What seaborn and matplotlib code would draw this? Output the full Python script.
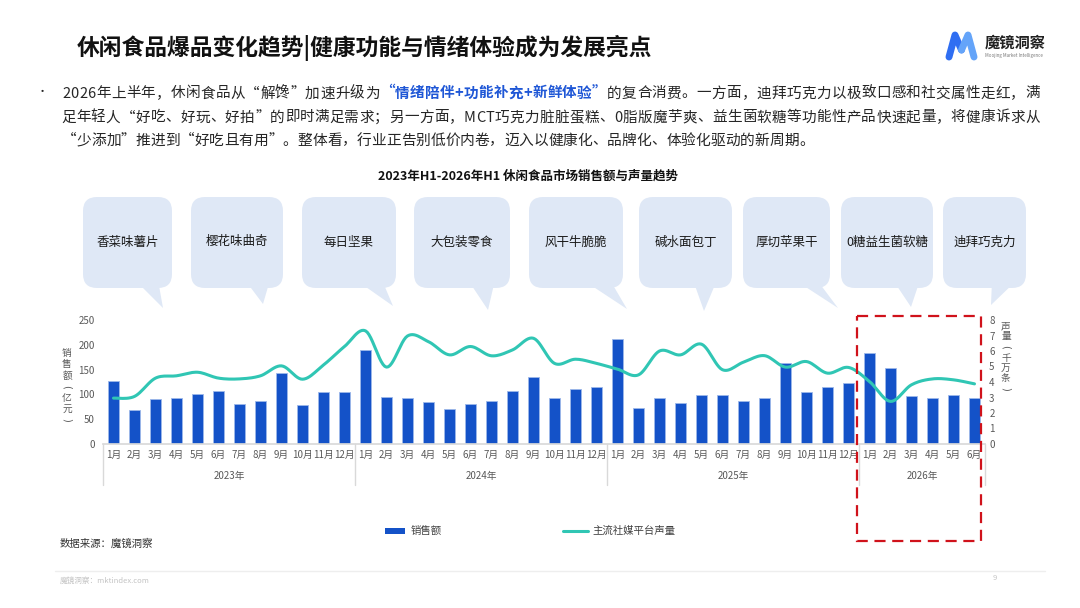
import matplotlib
matplotlib.use("Agg")
import matplotlib.pyplot as plt
import matplotlib.transforms as mtransforms
from matplotlib.patches import FancyBboxPatch, Polygon, Rectangle
import seaborn as sns
import numpy as np

# ---------------------------------------------------------
# data
# ---------------------------------------------------------
years = ["2023年", "2024年", "2025年", "2026年"]
months_per_year = [12, 12, 12, 6]
month_labels = [f"{m}月" for n in months_per_year for m in range(1, n + 1)]

# 销售额（亿元）
sales = [128, 69, 90, 92, 100, 106, 80, 87, 143, 78, 105, 105,
         189, 94, 92, 84, 70, 81, 86, 106, 135, 93, 110, 115,
         211, 72, 92, 82, 99, 98, 86, 93, 163, 105, 115, 122,
         184, 153, 96, 92, 98, 93]

# 主流社媒平台声量（千万条）
volume = [2.96, 3.07, 4.25, 4.40, 4.63, 4.25, 4.20, 4.40, 5.04, 4.18, 5.10, 6.29,
          7.30, 4.96, 6.97, 6.60, 5.75, 6.29, 5.69, 6.07, 6.82, 5.20, 5.47, 5.20,
          4.83, 4.46, 6.00, 5.75, 6.44, 4.79, 5.28, 5.70, 4.96, 5.32, 4.57, 4.94,
          4.03, 2.75, 3.82, 4.20, 4.14, 3.88]

products = ["香菜味薯片", "樱花味曲奇", "每日坚果", "大包装零食", "风干牛脆脆",
            "碱水面包丁", "厚切苹果干", "0糖益生菌软糖", "迪拜巧克力"]

title = "休闲食品爆品变化趋势|健康功能与情绪体验成为发展亮点"
chart_title = "2023年H1-2026年H1 休闲食品市场销售额与声量趋势"

BAR = "#1452c8"
LINE = "#30c6b4"
BUBBLE = "#dfe8f6"
TICK = "#595959"

sns.set_theme(style="white")
plt.rcParams["font.family"] = ["Noto Sans CJK SC", "DejaVu Sans"]

fig = plt.figure(figsize=(10.8, 6.08), dpi=100)

# ---------------------------------------------------------
# main chart
# ---------------------------------------------------------
ax = fig.add_axes([103 / 1080, 1 - 444 / 608, 882 / 1080, 124 / 608])
idx = list(range(len(sales)))
sns.barplot(x=idx, y=sales, ax=ax, color=BAR, saturation=1, width=0.52,
            edgecolor="#9db8ea", linewidth=0.6)
ax.set_ylim(0, 250)
ax.set_yticks(range(0, 251, 50))
ax.set_xticks(idx)
ax.set_xticklabels(month_labels)
ax.tick_params(axis="x", length=0, pad=4, labelsize=7, colors=TICK)
ax.tick_params(axis="y", length=0, pad=6, labelsize=7, colors=TICK)
ax.set_xlabel("")
ax.set_ylabel("")
for s in ["top", "right", "left"]:
    ax.spines[s].set_visible(False)
ax.spines["bottom"].set_color("#d9d9d9")


def smooth(xv, yv, n=12):
    p = np.column_stack([xv, yv]).astype(float)
    p = np.vstack([p[0], p, p[-1]])
    out = []
    for i in range(1, len(p) - 2):
        p0, p1, p2, p3 = p[i - 1], p[i], p[i + 1], p[i + 2]
        for t in np.linspace(0, 1, n, endpoint=False):
            out.append(0.5 * (2 * p1 + (-p0 + p2) * t
                              + (2 * p0 - 5 * p1 + 4 * p2 - p3) * t ** 2
                              + (-p0 + 3 * p1 - 3 * p2 + p3) * t ** 3))
    out.append(p[-2])
    out = np.array(out)
    return out[:, 0], out[:, 1]


ax2 = ax.twinx()
sx, sy = smooth(idx, volume)
sns.lineplot(x=sx, y=sy, ax=ax2, color=LINE, linewidth=2.2, sort=False, estimator=None)
ax2.set_ylim(0, 8)
ax2.set_yticks(range(0, 9))
ax2.tick_params(axis="y", length=0, pad=3, labelsize=7, colors=TICK)
for s in ax2.spines.values():
    s.set_visible(False)
ax.set_xlim(-0.5, len(sales) - 0.5)

# year groups under the month labels
trans = mtransforms.blended_transform_factory(ax.transData, ax.transAxes)
start = 0
bounds = [-0.5]
for yr, n in zip(years, months_per_year):
    ax.text(start + (n - 1) / 2, -0.258, yr, transform=trans, ha="center", va="center",
            fontsize=7, color=TICK)
    start += n
    bounds.append(start - 0.5)
for b in bounds:
    ax.plot([b, b], [0, -0.33], transform=trans, color="#d9d9d9", lw=1, clip_on=False)

# ---------------------------------------------------------
# overlay in pixel coordinates
# ---------------------------------------------------------
ov = fig.add_axes([0, 0, 1, 1], zorder=10)
ov.set_xlim(0, 1080)
ov.set_ylim(608, 0)
ov.axis("off")
ov.patch.set_alpha(0)

ov.text(77, 48, title, fontsize=16.4, weight="bold", color="#111111", va="center", ha="left")

# logo
ov.plot([949, 955, 961.5], [57, 35, 50], color="#2f6ef2", lw=5, solid_capstyle="round",
        solid_joinstyle="round")
ov.plot([961.5, 968, 974], [50, 35, 57], color="#64a4f9", lw=5, solid_capstyle="round",
        solid_joinstyle="round")
ov.text(985, 43, "魔镜洞察", fontsize=11, weight="bold", color="#222222", va="center")
ov.text(985, 55, "Moojing Market Intelligence", fontsize=3.2, color="#777777", va="center")

# paragraph, placed glyph by glyph so lines can be justified
renderer = fig.canvas.get_renderer()
_cache = {}


def adv(ch, size, weight):
    key = (ch, size, weight)
    if key not in _cache:
        def w(s):
            t = ov.text(0, 0, s, fontsize=size, weight=weight)
            bb = t.get_window_extent(renderer)
            t.remove()
            return bb.width
        _cache[key] = w("|" + ch + "|") - w("||")
    return _cache[key]


def put_line(x0, base, segments, size=10.5, right=None):
    chars = [(ch, c, wt) for txt, c, wt in segments for ch in txt]
    widths = [adv(ch, size, wt) for ch, c, wt in chars]
    gap = 0 if right is None else (right - x0 - sum(widths)) / (len(chars) - 1)
    x = x0
    for (ch, c, wt), w in zip(chars, widths):
        ov.text(x, base, ch, fontsize=size, color=c, weight=wt, ha="left", va="baseline")
        x += w + gap


DARK = "#262626"
HL = "#1f57d6"
ov.text(42, 92, "•", fontsize=8, color=DARK, va="center", ha="center")
put_line(62, 97.5, [("2026年上半年，休闲食品从“解馋”加速升级为", DARK, "normal"),
                    ("“情绪陪伴+功能补充+新鲜体验”", HL, "bold"),
                    ("的复合消费。一方面，迪拜巧克力以极致口感和社交属性走红，满", DARK, "normal")],
         right=1040)
put_line(61, 121.5, [("足年轻人“好吃、好玩、好拍”的即时满足需求；另一方面，MCT巧克力脏脏蛋糕、"
                      "0脂版魔芋爽、益生菌软糖等功能性产品快速起量，将健康诉求从", DARK, "normal")],
         right=1040)
put_line(62, 144.5, [("“少添加”推进到“好吃且有用”。整体看，行业正告别低价内卷，迈入以健康化、品牌化、"
                      "体验化驱动的新周期。", DARK, "normal")], size=10.6)

ov.text(528, 176, chart_title, fontsize=9, weight="bold", color="#111111",
        ha="center", va="center")

# speech bubbles
bubble_x = [(83, 172), (191, 283), (302, 396), (414, 510), (529, 623),
            (639, 732), (743, 830), (841, 933), (943, 1026)]
tails = [(135, 158, 163, 308), (245, 270, 263, 304), (356, 382, 393, 306),
         (468, 495, 488, 310), (583, 610, 627, 309), (693, 717, 704, 311),
         (795, 817, 838, 308), (893, 920, 911, 307), (992, 1017, 991, 305)]
for name, (x0, x1), (tl, tr, tx, ty) in zip(products, bubble_x, tails):
    ov.add_patch(FancyBboxPatch((x0, 197), x1 - x0, 91,
                                boxstyle="round,pad=0,rounding_size=14",
                                fc=BUBBLE, ec="none"))
    ov.add_patch(Polygon([(tl, 280), (tr, 280), (tx, ty)], closed=True, fc=BUBBLE, ec="none"))
    ov.text((x0 + x1) / 2, 242, name, fontsize=9, color="#1a1a1a", ha="center", va="center")


# axis titles: upright characters stacked, brackets turned
def stack_label(x, y0, step, text):
    for i, ch in enumerate(text):
        if ch in "()":
            ov.text(x, y0 + i * step, ch, fontsize=7, color=TICK, ha="center",
                    va="center", rotation=-90, family="DejaVu Sans")
        else:
            ov.text(x, y0 + i * step, ch, fontsize=7, color=TICK, ha="center", va="center")


stack_label(67, 353, 11.2, "销售额(亿元)")
stack_label(1006, 326, 10.5, "声量(千万条)")

# highlight box for 2026
ov.add_patch(Rectangle((857, 316), 124, 225, fill=False, ec="#d0121b", lw=1.6,
                       ls=(0, (5, 3))))

# legend
ov.add_patch(Rectangle((385, 528), 20, 6, fc=BAR, ec="none"))
ov.text(411, 531, "销售额", fontsize=7.5, color="#404040", va="center")
ov.plot([563, 588], [531, 531], color=LINE, lw=2.2)
ov.text(592, 531, "主流社媒平台声量", fontsize=7.5, color="#404040", va="center")

ov.text(60, 544, "数据来源：魔镜洞察", fontsize=7.5, color="#333333", va="center")

# footer
ov.plot([55, 1045], [571, 571], color="#eeeeee", lw=1)
ov.text(60, 581, "魔镜洞察：mktindex.com", fontsize=5.5, color="#c4c4c4", va="center")
ov.text(993, 578, "9", fontsize=5.5, color="#c4c4c4", va="center")

fig.savefig("out.png", dpi=100)
